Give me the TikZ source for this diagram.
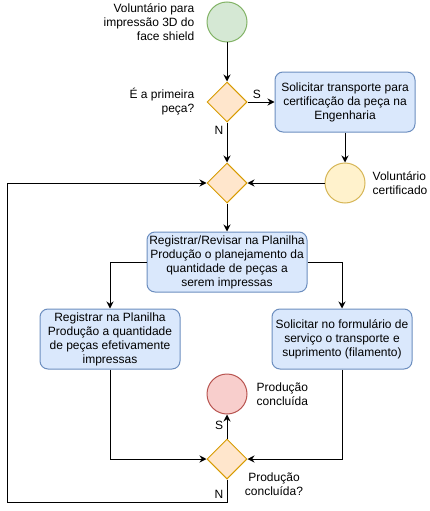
\documentclass[tikz,border=0pt]{standalone}
\usepackage{fontspec}
\setmainfont{Liberation Sans}
\usepackage{xcolor}
\usetikzlibrary{positioning,arrows.meta,shapes.geometric}

\definecolor{greenfill}{HTML}{D5E8D4}\definecolor{greenline}{HTML}{82B366}
\definecolor{orangefill}{HTML}{FFE6CC}\definecolor{orangeline}{HTML}{D79B00}
\definecolor{bluefill}{HTML}{DAE8FC}\definecolor{blueline}{HTML}{6C8EBF}
\definecolor{yellowfill}{HTML}{FFF2CC}\definecolor{yellowline}{HTML}{D6B656}
\definecolor{redfill}{HTML}{F8CECC}\definecolor{redline}{HTML}{B85450}

\begin{document}
\begin{tikzpicture}[x=1pt, y=-1pt, font=\fontsize{12}{14}\selectfont,
  >={Stealth[length=7pt, width=7pt]},
  terminal/.style={circle, minimum size=40pt, inner sep=0pt, line width=1pt},
  decision/.style={diamond, minimum width=40pt, minimum height=40pt, inner sep=0pt,
                   draw=orangeline, fill=orangefill, line width=1pt},
  task/.style={rectangle, rounded corners=8pt, draw=blueline, fill=bluefill, line width=1pt,
               minimum width=140pt, minimum height=60pt, align=center, inner sep=2pt},
  note/.style={inner sep=0pt},
  flow/.style={->, line width=1pt, black}]

\useasboundingbox (0,0) rectangle (429,511);

\node[terminal, draw=greenline, fill=greenfill] (start) at (227,22) {};
\node[note, left=12pt of start, align=right] (startlab) {Voluntário para\\impressão 3D do\\face shield};

\node[decision] (first) at (227,102) {};
\node[note, left=12pt of first, align=right] (firstlab) {É a primeira\\peça?};

\node[task] (ask) at (345,102) {Solicitar transporte para\\certificação da peça na\\Engenharia};

\node[decision] (merge) at (227,183) {};
\node[terminal, draw=yellowline, fill=yellowfill] (cert) at (345,183) {};
\node[note, right=7pt of cert, align=left] (certlab) {Voluntário\\certificado};

\node[task, minimum width=160pt] (plan) at (227,262)
  {Registrar/Revisar na Planilha\\Produção o planejamento da\\quantidade de peças a\\serem impressas};
\node[task] (reg) at (110,339) {Registrar na Planilha\\Produção a quantidade\\de peças efetivamente\\impressas};
\node[task] (req) at (342,339) {Solicitar no formulário de\\serviço o transporte e\\suprimento (filamento)};

\node[terminal, draw=redline, fill=redfill] (done) at (227,394) {};
\node[note, right=9pt of done, align=left] (donelab) {Produção\\concluída};

\node[decision] (check) at (227,459) {};
\node[note, align=center] (checklab) at (274,484) {Produção\\concluída?};

\coordinate (back) at (7,502);

\foreach \a/\b in {start/first, ask/cert, cert/merge, merge/plan}{
  \draw[flow] (\a) -- (\b);
}
\draw[flow] (first) -- node[above, pos=0.35] {S} (ask);
\draw[flow] (first) -- node[left, pos=0.2] {N} (merge);
\draw[flow] (plan.west) -| (reg.north);
\draw[flow] (plan.east) -| (req.north);
\draw[flow] (reg.south) |- (check.west);
\draw[flow] (req.south) |- (check.east);
\draw[flow] (check) -- node[left, pos=0.55] {S} (done);
\draw[flow] (check.south) -- node[left, pos=0.65] {N} (check.south |- back) -- (back) |- (merge.west);

\end{tikzpicture}
\end{document}
